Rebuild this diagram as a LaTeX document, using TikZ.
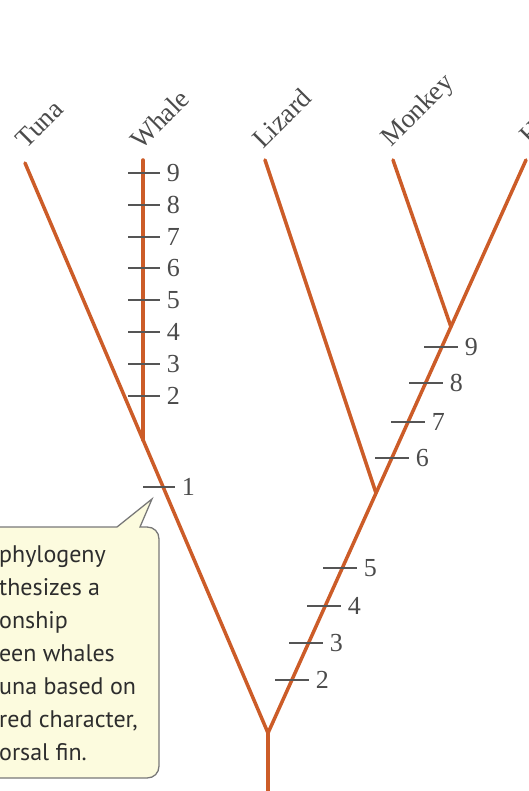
\documentclass[tikz,border=0pt]{standalone}
\usepackage{fontspec}
\newfontfamily\calloutfont{PT Sans}
\newfontfamily\labelfont{Liberation Serif}
\usetikzlibrary{calc}
\definecolor{branch}{RGB}{204,92,40}
\definecolor{tickgray}{RGB}{85,85,85}
\definecolor{labelgray}{RGB}{75,75,75}
\definecolor{calloutfill}{RGB}{252,251,222}
\definecolor{calloutedge}{RGB}{120,120,120}
\definecolor{callouttext}{RGB}{45,45,45}
\begin{document}
\begin{tikzpicture}[x=1pt,y=-1pt,
  branchline/.style={draw=branch, line width=3.5pt, line cap=round},
  tickmark/.style={draw=tickgray, line width=1.8pt},
  num/.style={anchor=west, inner sep=0pt, xshift=6pt, text=labelgray, font=\labelfont\fontsize{26}{28}\selectfont},
  taxon/.style={rotate=45, anchor=base west, inner sep=0pt, text=labelgray, font=\labelfont\fontsize{27}{30}\selectfont},
  callout/.style={fill=calloutfill, draw=calloutedge, line width=1.3pt},
  callouttxt/.style={anchor=north west, inner sep=0pt, align=left, text=callouttext, font=\calloutfont\fontsize{24}{33}\selectfont},
]
\useasboundingbox (0,0) rectangle (529,791);
\clip (0,0) rectangle (529,791);

% callout box
\path[callout] (-30,527) -- (117,527) -- (152,499) -- (140,527) -- (147,527)
  .. controls (154,527) and (159,532) .. (159,539) -- (159,766)
  .. controls (159,773) and (154,778) .. (147,778) -- (-30,778) -- cycle;
\node[callouttxt] (note) at (-1,545) {phylogeny\\thesizes a\\onship\\een whales\\una based on\\red character,\\orsal fin.};

% tree points
\coordinate (root) at (268,733);
\coordinate (base) at (268,795);
\coordinate (tuna) at (25,163);
\coordinate (whaleJ) at (143,440);
\coordinate (whale) at (143,160);
\coordinate (human) at (526,160);
\coordinate (lizJ) at (376,493);
\coordinate (lizard) at (265,160);
\coordinate (monJ) at (451,327);
\coordinate (monkey) at (393,160);

\draw[branchline] (base) -- (root);
\draw[branchline] (root) -- (tuna);
\draw[branchline] (whaleJ) -- (whale);
\draw[branchline] (root) -- (human);
\draw[branchline] (lizJ) -- (lizard);
\draw[branchline] (monJ) -- (monkey);

% whale ticks
\foreach \y/\d in {173/9,205/8,237/7,268/6,300/5,332/4,364/3,396/2}{
  \draw[tickmark] (128,\y) -- (160,\y) node[num] (w\d) {\d};
}
% tuna/whale shared tick
\draw[tickmark] (143,487) -- (175,487) node[num] (t1) {1};

% right side ticks
\foreach \x/\y/\d in {441/347/9,426/383/8,408/422/7,392/458/6,340/568/5,324/606/4,306/643/3,292/680/2}{
  \draw[tickmark] (\x-17,\y) -- (\x+17,\y) node[num] (r\d) {\d};
}

% taxon labels
\node[taxon] (ltuna) at (26,150) {Tuna};
\node[taxon] (lwhale) at (141,151) {Whale};
\node[taxon] (llizard) at (263,150) {Lizard};
\node[taxon] (lmonkey) at (391,148) {Monkey};
\node[taxon] (lhuman) at (530,146) {Human};
\end{tikzpicture}
\end{document}
